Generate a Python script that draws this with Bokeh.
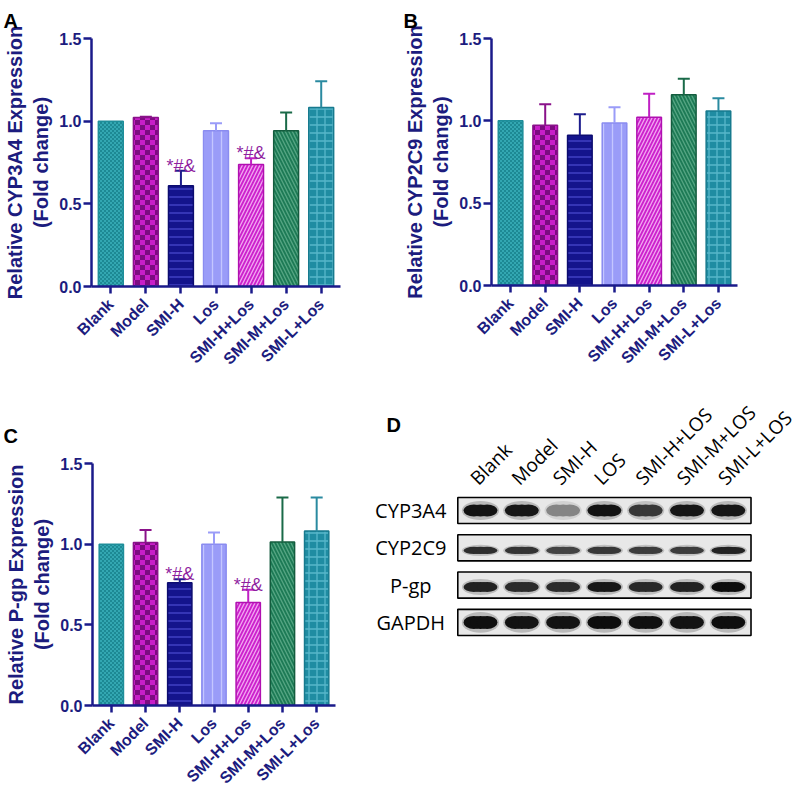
import math, zlib, struct, base64
from bokeh.plotting import figure
from bokeh.models import Range1d, FixedTicker, NumeralTickFormatter, ColumnDataSource, ImageURLTexture, Label
from bokeh.layouts import row, column
from bokeh.embed import file_html
from bokeh.resources import INLINE
from bokeh.core.properties import value

# ---------------- data ----------------
groups = ["Blank", "Model", "SMI-H", "Los", "SMI-H+Los", "SMI-M+Los", "SMI-L+Los"]

cyp3a4_mean = [1.00, 1.022, 0.61, 0.942, 0.738, 0.942, 1.083]
cyp3a4_err = [0.0, 0.005, 0.09, 0.046, 0.037, 0.11, 0.158]
cyp3a4_sig = ["", "", "*#&", "", "*#&", "", ""]

cyp2c9_mean = [1.00, 0.973, 0.912, 0.987, 1.022, 1.158, 1.06]
cyp2c9_err = [0.0, 0.127, 0.128, 0.096, 0.142, 0.097, 0.077]
cyp2c9_sig = ["", "", "", "", "", "", ""]

pgp_mean = [1.00, 1.01, 0.761, 1.00, 0.639, 1.014, 1.082]
pgp_err = [0.0, 0.078, 0.021, 0.072, 0.079, 0.276, 0.208]
pgp_sig = ["", "", "*#&", "", "*#&", "", ""]

y_ticks = [0.0, 0.5, 1.0, 1.5]

blot_lanes = ["Blank", "Model", "SMI-H", "LOS", "SMI-H+LOS", "SMI-M+LOS", "SMI-L+LOS"]
blot_proteins = ["CYP3A4", "CYP2C9", "P-gp", "GAPDH"]
band_cyp3a4 = [0.97, 0.95, 0.45, 0.97, 0.80, 0.95, 0.95]
band_cyp2c9 = [0.85, 0.82, 0.75, 0.80, 0.78, 0.78, 0.90]
band_pgp = [0.90, 0.86, 0.86, 0.95, 0.87, 0.90, 1.00]
band_gapdh = [0.98, 0.97, 0.97, 0.99, 0.98, 0.97, 0.99]

# ---------------- styles ----------------
NAVY = "#1c1c7e"
AXIS = "#1a1a8a"
fill_colors = ["#2fa3ae", "#c41ec6", "#14148c", "#9a9cf8", "#cc22cc", "#1d7a55", "#1f8ca2"]
line_colors = ["#1e8e9a", "#8a128a", "#0c0c70", "#8a8cf0", "#b010b0", "#145c3e", "#177a8e"]
err_colors = ["#1e8e9a", "#8a128a", "#1c1c8c", "#9a9cf8", "#c020c4", "#1a6a48", "#2a8aa0"]
hatch_patterns = ["chk_fine", "chk_big", "-", "|", "/", "\\", "+"]
hatch_colors = ["#1d8b97", "#7c0c80", "#4646cc", "#c4c6ff", "#f2a6f2", "#55a583", "#56b6ca"]
hatch_scales = [4, 10, 8, 9, 7, 7, 8]


def png_uri(rows):
    h = len(rows)
    w = len(rows[0])
    raw = b"".join(b"\x00" + bytes([c for px in r for c in px]) for r in rows)

    def chunk(t, d):
        return struct.pack(">I", len(d)) + t + d + struct.pack(">I", zlib.crc32(t + d) & 0xFFFFFFFF)

    png = (b"\x89PNG\r\n\x1a\n" + chunk(b"IHDR", struct.pack(">IIBBBBB", w, h, 8, 2, 0, 0, 0))
           + chunk(b"IDAT", zlib.compress(raw)) + chunk(b"IEND", b""))
    return "data:image/png;base64," + base64.b64encode(png).decode()


def hex2rgb(hx):
    return tuple(int(hx[i:i + 2], 16) for i in (1, 3, 5))


def checker(c1, c2, size):
    a, b = hex2rgb(c1), hex2rgb(c2)
    n = size * 2
    return [[a if ((x // size) + (y // size)) % 2 == 0 else b for x in range(n)] for y in range(n)]


textures = {
    "chk_fine": ImageURLTexture(url=png_uri(checker("#33a7b2", "#1d8994", 2)), repetition="repeat"),
    "chk_big": ImageURLTexture(url=png_uri(checker("#c81ec8", "#7c0c80", 5)), repetition="repeat"),
}


def bar_panel(letter, ylabel, means, errs, sigs, width, height, left, top, fw, fh, standoff, toff):
    n = len(groups)
    xs = list(range(n))
    p = figure(width=width, height=height, x_range=Range1d(-0.55, n - 0.45), y_range=Range1d(0, 1.5),
               output_backend="svg", toolbar_location=None,
               min_border_left=left, min_border_top=top,
               min_border_right=width - left - fw, min_border_bottom=height - top - fh)
    p.frame_align = False
    p.outline_line_color = None
    p.grid.visible = False
    p.background_fill_color = "white"
    p.border_fill_color = "white"

    p.title.text = letter
    p.title.text_font = "Liberation Sans"
    p.title.text_font_size = "20px"
    p.title.text_font_style = "bold"
    p.title.text_color = "black"
    p.title.align = "left"
    p.title.offset = toff
    p.title.standoff = standoff

    src = ColumnDataSource(dict(x=xs, top=means, fill=fill_colors, line=line_colors,
                                hp=hatch_patterns, hc=hatch_colors, hs=hatch_scales))
    p.vbar(x="x", top="top", bottom=0, width=0.71, source=src, fill_color="fill",
           line_color="line", line_width=1.5, hatch_pattern="hp", hatch_color="hc",
           hatch_scale="hs", hatch_weight=1.3, hatch_extra=textures)

    keep = [i for i in xs if errs[i] > 0]
    esrc = ColumnDataSource(dict(x=[xs[i] for i in keep], m=[means[i] for i in keep],
                                 u=[means[i] + errs[i] for i in keep], c=[err_colors[i] for i in keep]))
    p.segment(x0="x", y0="m", x1="x", y1="u", line_color="c", line_width=2, source=esrc)
    p.scatter(x="x", y="u", marker="dash", size=12, line_color="c", line_width=2, source=esrc)

    skeep = [i for i in xs if sigs[i]]
    ssrc = ColumnDataSource(dict(x=[xs[i] for i in skeep], u=[means[i] + errs[i] for i in skeep],
                                 s=[sigs[i] for i in skeep]))
    p.text(x="x", y="u", text="s", source=ssrc, text_align="center", text_baseline="alphabetic",
           y_offset=-5, text_font=value("Liberation Sans"), text_font_size="18px", text_color="#8f1f9f")

    p.xaxis.ticker = FixedTicker(ticks=xs)
    p.xaxis.major_label_overrides = {i: g for i, g in enumerate(groups)}
    p.xaxis.major_label_orientation = math.pi / 4
    p.xaxis.major_tick_out = 7
    p.yaxis.ticker = FixedTicker(ticks=y_ticks)
    p.yaxis.formatter = NumeralTickFormatter(format="0.0")
    p.yaxis.major_tick_out = 8
    for ax in (p.xaxis, p.yaxis):
        ax.major_tick_in = 0
        ax.minor_tick_line_color = None
        ax.axis_line_width = 2.5
        ax.axis_line_color = AXIS
        ax.major_tick_line_width = 2.5
        ax.major_tick_line_color = AXIS
        ax.major_label_text_font = "Liberation Sans"
        ax.major_label_text_font_style = "bold"
        ax.major_label_text_font_size = "16px"
        ax.major_label_text_color = NAVY
        ax.major_label_standoff = 2
    p.xaxis.major_label_standoff = 8
    p.yaxis.axis_label = ylabel + "\n(Fold change)"
    p.yaxis.axis_label_text_font = "Liberation Sans"
    p.yaxis.axis_label_text_font_style = "bold"
    p.yaxis.axis_label_text_font_size = "20px"
    p.yaxis.axis_label_text_color = NAVY
    p.yaxis.axis_label_standoff = 4
    p.yaxis.axis_label_text_line_height = 1.2
    return p


pA = bar_panel("A", "Relative CYP3A4 Expression", cyp3a4_mean, cyp3a4_err, cyp3a4_sig,
               400, 400, 90, 38, 250, 248, 14, -88)
pB = bar_panel("B", "Relative CYP2C9 Expression", cyp2c9_mean, cyp2c9_err, cyp2c9_sig,
               403, 400, 90, 38, 247, 247, 14, -88)
pC = bar_panel("C", "Relative P-gp Expression", pgp_mean, pgp_err, pgp_sig,
               372, 398, 92, 63, 243, 242, 33, -89)

# ---------------- western blot (D) ----------------
pD = figure(width=431, height=398, x_range=Range1d(-2.615, 7.821), y_range=Range1d(-7.721, 2.949),
            output_backend="svg", toolbar_location=None,
            min_border_left=0, min_border_right=0, min_border_top=0, min_border_bottom=0,
            x_axis_location=None, y_axis_location=None)
pD.frame_align = False
pD.outline_line_color = None
pD.grid.visible = False

n_l = len(blot_lanes)
lane_x = list(range(n_l))
row_y = [-k for k in range(len(blot_proteins))]
bands = [band_cyp3a4, band_cyp2c9, band_pgp, band_gapdh]
band_thick = [0.32, 0.19, 0.27, 0.35]
band_shift = [0.0, -0.07, -0.05, 0.0]

BG = 232
DK = 12


def gray(v):
    v = int(round(v))
    return "#%02x%02x%02x" % (v, v, v)


box_cx = (lane_x[0] + lane_x[-1]) / 2
box_w = (lane_x[-1] - lane_x[0]) + 1.1
pD.rect(x=[box_cx] * len(row_y), y=row_y, width=box_w, height=0.7,
        fill_color=gray(BG), line_color="black", line_width=1.6)

for k, yk in enumerate(row_y):
    inten = bands[k]
    th = band_thick[k]
    yb = [yk + band_shift[k]] * n_l
    halo = [gray(BG - v * 0.22 * (BG - DK)) for v in inten]
    core = [gray(BG - v * (BG - DK)) for v in inten]
    pD.ellipse(x=lane_x, y=yb, width=0.9, height=th * 1.6, fill_color=halo, line_color=None)
    for dx in (-0.16, 0.0, 0.16):
        pD.ellipse(x=[x + dx for x in lane_x], y=yb, width=0.5, height=th,
                   fill_color=core, line_color=None)

pD.text(x=lane_x, y=[row_y[0] + 0.78] * n_l, text=blot_lanes, angle=math.pi / 4,
        text_align="left", text_baseline="alphabetic", x_offset=-7,
        text_font=value("Open Sans"), text_font_size="19px", text_color="black")
pD.text(x=[box_cx - box_w / 2] * len(row_y), y=row_y,
        text=blot_proteins, text_align="center", text_baseline="middle", x_offset=-47,
        text_font=value("Open Sans"), text_font_size="20px", text_color="black")
pD.add_layout(Label(x=-2.276, y=2.60, text="D", text_baseline="top", text_align="left",
                    text_font="Liberation Sans", text_font_style="bold", text_font_size="20px",
                    text_color="black"))

layout = column(row(pA, pB), row(pC, pD))
open("out.html", "w").write(file_html(layout, INLINE))
